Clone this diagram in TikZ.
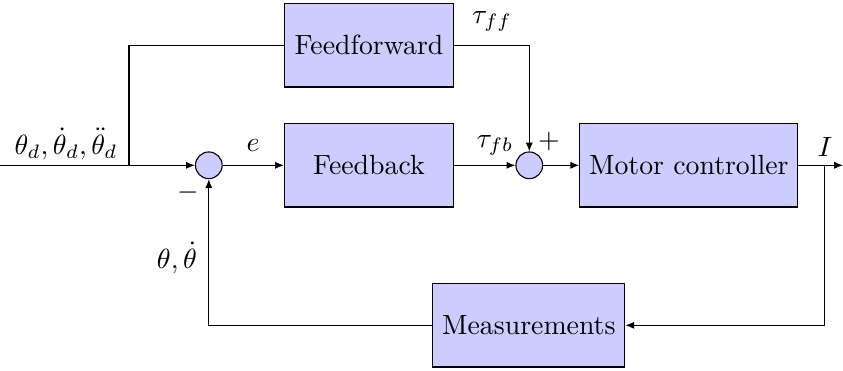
\documentclass[tikz,border=0pt]{standalone}
\usetikzlibrary{arrows.meta}
\begin{document}
\begin{tikzpicture}[x=0.3597pt,y=-0.3597pt,
  line width=0.4pt,
  block/.style={draw, fill=blue!20, rectangle, minimum height=30pt,
                minimum width=60.8pt, inner sep=0.3333em},
  sumnode/.style={draw, fill=blue!20, circle, inner sep=0pt, minimum size=9.6pt},
  sig/.style={-{Latex[length=3.2pt,width=2.6pt]}},
  lbl/.style={inner sep=0pt}]
\useasboundingbox (0,0) rectangle (843,370);

% blocks and summing junctions
\node[block] (ff) at (369,45.3) {Feedforward};
\node[block] (fb) at (369,165.3) {Feedback};
\node[sumnode] (s1) at (208.8,165.3) {};
\node[sumnode] (s2) at (529.3,165.3) {};
\node[block] (mc) at (688.8,165.3) {Motor controller};
\node[block] (ms) at (528.8,325.3) {Measurements};

% signal end points and branch points
\coordinate (in) at (0,165.3);
\coordinate (br) at (129,165.3);
\coordinate (out) at (843,165.3);
\coordinate (ob) at (824.5,165.3);

% forward path
\draw[sig] (in) -- (s1);
\draw (br) |- (ff.west);
\draw[sig] (ff.east) -| (s2.north);
\draw[sig] (s1) -- (fb);
\draw[sig] (fb) -- (s2);
\draw[sig] (s2) -- (mc);
\draw[sig] (mc) -- (out);

% feedback path
\draw[sig] (ob) |- (ms.east);
\draw[sig] (ms.west) -| (s1.south);

% signal labels
\node[lbl] (lin) at (66,144) {$\theta_d,\dot{\theta}_d,\ddot{\theta}_d$};
\node[lbl] (le) at (253,146) {$e$};
\node[lbl] (lff) at (492,21) {$\tau_{ff}$};
\node[lbl] (lfb) at (495,145) {$\tau_{fb}$};
\node[lbl] (lplus) at (549,142) {$+$};
\node[lbl] (lminus) at (188,193) {$-$};
\node[lbl] (li) at (825,147) {$I$};
\node[lbl] (lth) at (177,258) {$\theta,\dot{\theta}$};
\end{tikzpicture}
\end{document}
